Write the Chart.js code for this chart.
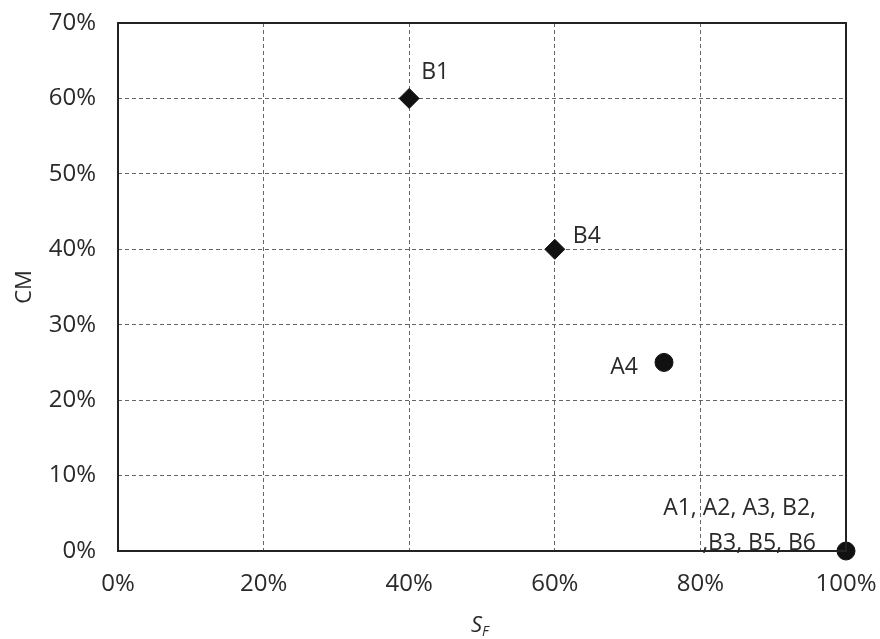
<!DOCTYPE html>
<html>
<head>
<meta charset="utf-8">
<script src="https://cdn.jsdelivr.net/npm/chart.js@4"></script>
<style>
  html, body { margin: 0; padding: 0; background: #fff; }
  #wrap { width: 880px; height: 639px; }
</style>
</head>
<body>
<div id="wrap"><canvas id="scatterChart" width="880" height="639"></canvas></div>
<script>
// values (fractions, shown as %)
const diamondNames = ['B1', 'B4'];
const diamondSF = [0.40, 0.60];
const diamondCM = [0.60, 0.40];

const circleNames = ['A4', 'A1, A2, A3, B2,|,B3, B5, B6'];
const circleSF = [0.75, 1.00];
const circleCM = [0.25, 0.00];

const xTicks = [0, 0.2, 0.4, 0.6, 0.8, 1.0];
const yTicks = [0, 0.1, 0.2, 0.3, 0.4, 0.5, 0.6, 0.7];

const font = "'Open Sans', 'Liberation Sans', sans-serif";
const textColor = '#2a2a2a';

// label offsets per point (pixels), align
const labelPlace = {
  'B1': { dx: 12, dy: -26, align: 'left' },
  'B4': { dx: 18, dy: -13, align: 'left' },
  'A4': { dx: -26, dy: 5, align: 'right' },
  'A1, A2, A3, B2,|,B3, B5, B6': { dx: -30, dy: -43, align: 'right' }
};

const pointLabels = {
  id: 'pointLabels',
  afterDatasetsDraw(chart) {
    const c = chart.ctx;
    c.save();
    c.font = '23px ' + font;
    c.fillStyle = textColor;
    c.textBaseline = 'middle';
    chart.data.datasets.forEach((ds, i) => {
      chart.getDatasetMeta(i).data.forEach((el, j) => {
        const name = ds.names[j];
        const p = labelPlace[name];
        c.textAlign = p.align;
        name.split('|').forEach((line, k) => {
          c.fillText(line, el.x + p.dx, el.y + p.dy + k * 35);
        });
      });
    });
    c.restore();
  }
};

// full black frame and the S_F title with subscript
const frameAndTitle = {
  id: 'frameAndTitle',
  afterDraw(chart) {
    const a = chart.chartArea;
    const c = chart.ctx;
    c.save();
    c.strokeStyle = '#222';
    c.lineWidth = 2;
    c.strokeRect(a.left, a.top, a.right - a.left, a.bottom - a.top);
    c.fillStyle = textColor;
    c.textBaseline = 'alphabetic';
    c.textAlign = 'left';
    const cx = (a.left + a.right) / 2;
    c.font = 'italic 22px ' + font;
    const w = c.measureText('S').width;
    c.fillText('S', cx - w, 632);
    c.font = 'italic 14px ' + font;
    c.fillText('F', cx, 636);
    c.restore();
  }
};

new Chart(document.getElementById('scatterChart'), {
  type: 'scatter',
  data: {
    datasets: [{
      label: 'B',
      names: diamondNames,
      data: diamondSF.map((x, i) => ({ x: x, y: diamondCM[i] })),
      pointStyle: 'rectRot',
      pointRadius: 10,
      pointHoverRadius: 10,
      backgroundColor: '#111',
      borderColor: '#111',
      clip: false
    }, {
      label: 'A',
      names: circleNames,
      data: circleSF.map((x, i) => ({ x: x, y: circleCM[i] })),
      pointStyle: 'circle',
      pointRadius: 9,
      pointHoverRadius: 9,
      backgroundColor: '#111',
      borderColor: '#111',
      clip: false
    }]
  },
  options: {
    responsive: false,
    animation: false,
    layout: { padding: { top: 23, right: 34, bottom: 0, left: 0 } },
    plugins: {
      legend: { display: false },
      tooltip: { enabled: false }
    },
    scales: {
      x: {
        min: 0,
        max: 1,
        afterBuildTicks: (s) => { s.ticks = xTicks.map(v => ({ value: v })); },
        afterFit: (s) => {
          s.height = 88;
          s.paddingLeft = 0;
          s.paddingRight = 0;
        },
        ticks: {
          color: textColor,
          font: { size: 24, family: font },
          padding: 19,
          maxRotation: 0,
          callback: (v) => Math.round(v * 100) + '%'
        },
        grid: { color: '#666', lineWidth: 1, drawTicks: false },
        border: { display: false, dash: [4, 3] }
      },
      y: {
        min: 0,
        max: 0.7,
        afterBuildTicks: (s) => { s.ticks = yTicks.map(v => ({ value: v })); },
        afterFit: (s) => {
          s.width = 118;
          s.paddingTop = 0;
          s.paddingBottom = 0;
        },
        ticks: {
          color: textColor,
          font: { size: 24, family: font },
          padding: 22,
          callback: (v) => Math.round(v * 100) + '%'
        },
        title: {
          display: true,
          text: 'CM',
          color: textColor,
          font: { size: 22, family: font },
          padding: { top: 12, bottom: 0 }
        },
        grid: { color: '#666', lineWidth: 1, drawTicks: false },
        border: { display: false, dash: [4, 3] }
      }
    }
  },
  plugins: [pointLabels, frameAndTitle]
});
</script>
</body>
</html>
